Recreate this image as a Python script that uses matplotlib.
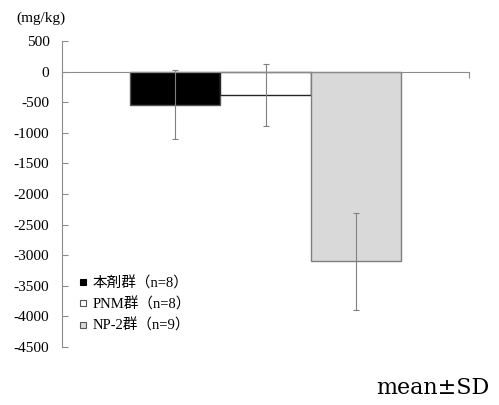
import matplotlib
matplotlib.use("Agg")
import matplotlib.pyplot as plt
from matplotlib.lines import Line2D

series = ["本剤群（n=8）", "PNM群（n=8）", "NP-2群（n=9）"]
means = [-540, -380, -3100]
sds = [560, 505, 795]
yticks = [500, 0, -500, -1000, -1500, -2000, -2500, -3000, -3500, -4000, -4500]

fills = ["#000000", "#ffffff", "#d9d9d9"]
edges = ["#555555", "#262626", "#7f7f7f"]

serif = ["Liberation Serif", "Noto Sans CJK JP"]
plt.rcParams['font.family'] = serif

fig = plt.figure(figsize=(4.99, 4.05), dpi=100)
ax = fig.add_axes([62/499, (405-347)/405, (469-62)/499, (347-41)/405])

gap = 1.5
w = 1.0 / (len(series) + gap)
start = gap / 2 * w
for i, (m, s) in enumerate(zip(means, sds)):
    x = start + w * (i + 0.5)
    ax.bar(x, m, width=w, color=fills[i], edgecolor=edges[i], linewidth=1.0, zorder=2)
    ax.errorbar(x, m, yerr=s, ecolor="#808080", elinewidth=0.8, capsize=2,
                capthick=0.8, fmt="none", zorder=3)

ax.set_xlim(0, 1)
ax.set_ylim(-4500, 500)
ax.set_yticks(yticks)
ax.set_yticklabels([str(t) for t in yticks], fontsize=11)
ax.set_xticks([0, 1])
ax.set_xticklabels([])
ax.spines['top'].set_visible(False)
ax.spines['right'].set_visible(False)
ax.spines['bottom'].set_position(('data', 0))
ax.spines['bottom'].set_color("#8c8c8c")
ax.spines['left'].set_color("#8c8c8c")
ax.spines['bottom'].set_zorder(4)
ax.tick_params(axis='y', direction='in', length=4, color="#8c8c8c", pad=9)
ax.tick_params(axis='x', direction='out', length=4, color="#8c8c8c")

handles = [Line2D([], [], marker='s', linestyle='none', markersize=5,
                  markerfacecolor=fills[i], markeredgecolor=("#000000" if i == 0 else "#555555"),
                  markeredgewidth=0.8) for i in range(3)]
leg = ax.legend(handles, series, loc='upper left', bbox_to_anchor=(79/499, 1 - 276/405),
                bbox_transform=fig.transFigure, frameon=False,
                handlelength=0.6, handletextpad=0.3, labelspacing=0.5,
                borderpad=0, borderaxespad=0, prop={'family': serif, 'size': 10.5})

fig.text(16/499, 1 - 18/405, "(mg/kg)", fontsize=11, ha='left', va='center', family=serif)
fig.text(489/499, 1 - 388/405, "mean±SD", fontsize=16, ha='right', va='center',
         family=["DejaVu Serif"])

fig.savefig("out.png", dpi=100)
